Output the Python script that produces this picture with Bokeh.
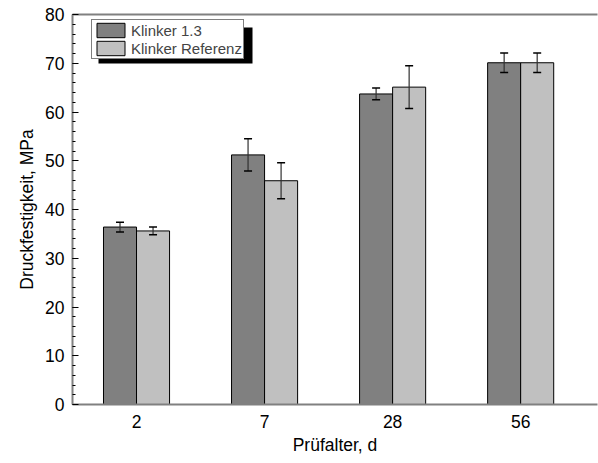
from bokeh.plotting import figure
from bokeh.models import (ColumnDataSource, Range1d, FixedTicker, SingleIntervalTicker,
                          LinearAxis, Whisker, TeeHead, Legend, LegendItem, BoxAnnotation)
from bokeh.transform import dodge
from bokeh.embed import file_html
from bokeh.resources import INLINE

categories = ["2", "7", "28", "56"]
klinker13 = [36.4, 51.2, 63.7, 70.1]
klinker13_err = [1.0, 3.3, 1.2, 2.0]
referenz = [35.6, 45.9, 65.1, 70.1]
referenz_err = [0.8, 3.7, 4.4, 2.0]
series_names = ["Klinker 1.3", "Klinker Referenz"]
y_ticks_major = 10

idx = list(range(len(categories)))
src = ColumnDataSource(dict(
    x=idx,
    k=klinker13,
    k_lo=[v - e for v, e in zip(klinker13, klinker13_err)],
    k_hi=[v + e for v, e in zip(klinker13, klinker13_err)],
    r=referenz,
    r_lo=[v - e for v, e in zip(referenz, referenz_err)],
    r_hi=[v + e for v, e in zip(referenz, referenz_err)],
))

FONT = "Liberation Sans"
X0, X1 = -0.5, 3.6
p = figure(width=598, height=463, output_backend="svg", toolbar_location=None,
           x_range=Range1d(X0, X1), y_range=Range1d(0, 80),
           min_border_left=72, min_border_right=1, min_border_top=14, min_border_bottom=59)
p.xgrid.visible = False
p.ygrid.visible = False
p.outline_line_color = None
p.background_fill_color = "white"
p.border_fill_color = "white"

off = 0.129
w = 0.258
b1 = p.vbar(x=dodge("x", -off, range=p.x_range), top="k", width=w, source=src,
            fill_color="#808080", line_color="black", line_width=1)
b2 = p.vbar(x=dodge("x", off, range=p.x_range), top="r", width=w, source=src,
            fill_color="#c0c0c0", line_color="black", line_width=1)

for base, lo, hi in (("k", "k_lo", "k_hi"), ("r", "r_lo", "r_hi")):
    o = -off if base == "k" else off
    wk = Whisker(base=dodge("x", o, range=p.x_range), lower=lo, upper=hi, source=src,
                 line_color="#303030", line_width=1.2, level="annotation",
                 upper_head=TeeHead(size=8, line_color="black", line_width=1.5),
                 lower_head=TeeHead(size=8, line_color="black", line_width=1.5))
    p.add_layout(wk)

# axes
p.xaxis.ticker = FixedTicker(ticks=idx)
p.xaxis.major_label_overrides = {i: c for i, c in zip(idx, categories)}
p.xaxis.major_tick_line_color = None
p.xaxis.minor_tick_line_color = None
p.xaxis.axis_line_color = "#808080"
p.xaxis.axis_line_width = 2
p.xaxis.axis_label = "Prüfalter, d"
p.xaxis.major_label_standoff = 4
p.xaxis.axis_label_standoff = 4

p.yaxis.ticker = SingleIntervalTicker(interval=y_ticks_major, num_minor_ticks=5)
p.yaxis.major_tick_in = 6
p.yaxis.major_tick_out = 0
p.yaxis.minor_tick_in = 3
p.yaxis.minor_tick_out = 0
p.yaxis.major_tick_line_color = "black"
p.yaxis.minor_tick_line_color = "black"
p.yaxis.axis_line_color = "#808080"
p.yaxis.axis_line_width = 2
p.yaxis.axis_label = "Druckfestigkeit, MPa"
p.yaxis.major_label_standoff = 8
p.yaxis.axis_label_standoff = 5

for ax in (p.xaxis[0], p.yaxis[0]):
    ax.major_label_text_font = FONT
    ax.major_label_text_font_size = "17.5px"
    ax.major_label_text_color = "black"
    ax.axis_label_text_font = FONT
    ax.axis_label_text_font_size = "17.5px"
    ax.axis_label_text_font_style = "normal"
    ax.axis_label_text_color = "black"

top_axis = LinearAxis(ticker=FixedTicker(ticks=[]), axis_line_color="#808080", axis_line_width=2,
                      major_tick_line_color=None, minor_tick_line_color=None,
                      major_tick_out=0, major_tick_in=0, major_label_standoff=0)
p.add_layout(top_axis, "above")

# legend shadow (pixel offsets from the frame's top-left, converted to data units)
frame_w, frame_h = 598 - 72 - 1, 463 - 14 - 59
xs = frame_w / (X1 - X0)
ys = frame_h / 80
def px_x(px):
    return px / xs + X0
def px_y(py):
    return 80 - py / ys
shadow = BoxAnnotation(left=px_x(26), right=px_x(180), top=px_y(13), bottom=px_y(49),
                       fill_color="black", fill_alpha=1, line_color=None, level="overlay")
p.add_layout(shadow)

legend = Legend(items=[LegendItem(label=series_names[0], renderers=[b1]),
                       LegendItem(label=series_names[1], renderers=[b2])],
                location=(19, frame_h - 8 - 37), padding=1, spacing=0, margin=0,
                glyph_width=35, glyph_height=18, label_height=18, label_standoff=3,
                label_text_font=FONT, label_text_font_size="15px",
                border_line_color="black", border_line_width=1,
                background_fill_color="white", background_fill_alpha=1)
p.add_layout(legend)

open("out.html", "w").write(file_html(p, INLINE))
